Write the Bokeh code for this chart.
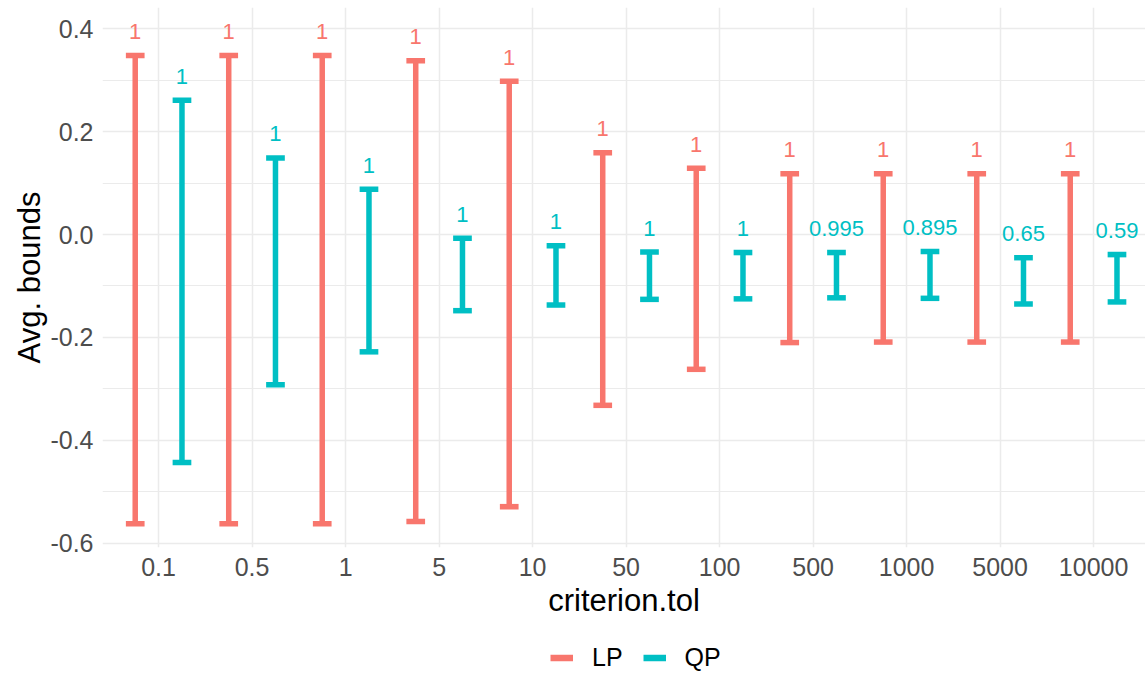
from bokeh.plotting import figure
from bokeh.layouts import column
from bokeh.models import (ColumnDataSource, FixedTicker, Legend, LegendItem,
                          PrintfTickFormatter, Range1d, LabelSet)
from bokeh.embed import file_html
from bokeh.resources import INLINE
from bokeh.core.properties import value

# ---- data ----
tol_labels = ["0.1", "0.5", "1", "5", "10", "50", "100", "500", "1000", "5000", "10000"]
methods = ["LP", "QP"]
lp_upper = [0.348, 0.348, 0.348, 0.338, 0.298, 0.159, 0.129, 0.118, 0.118, 0.118, 0.118]
lp_lower = [-0.562, -0.562, -0.562, -0.558, -0.529, -0.332, -0.262, -0.210, -0.209, -0.209, -0.209]
lp_label = ["1", "1", "1", "1", "1", "1", "1", "1", "1", "1", "1"]
qp_upper = [0.261, 0.149, 0.088, -0.007, -0.022, -0.034, -0.035, -0.035, -0.033, -0.045, -0.039]
qp_lower = [-0.443, -0.292, -0.228, -0.148, -0.137, -0.126, -0.125, -0.123, -0.124, -0.135, -0.131]
qp_label = ["1", "1", "1", "1", "1", "1", "1", "0.995", "0.895", "0.65", "0.59"]

colors = {"LP": "#F8766D", "QP": "#00BFC4"}
dodge = {"LP": -0.25, "QP": 0.25}
cap_half = 0.1
FONT = "Liberation Sans"

p = figure(width=1145, height=640, output_backend="svg", toolbar_location=None,
           x_range=Range1d(0.4, 11.555), y_range=Range1d(-0.6084, 0.4414),
           min_border_left=102, min_border_right=0, min_border_top=7,
           min_border_bottom=93)
p.outline_line_color = None
p.background_fill_color = "white"

sources = {}
for m, up, lo, lab in (("LP", lp_upper, lp_lower, lp_label), ("QP", qp_upper, qp_lower, qp_label)):
    xs = [i + 1 + dodge[m] for i in range(len(tol_labels))]
    src = ColumnDataSource(dict(x=xs, upper=up, lower=lo, label=lab,
                                xl=[x - cap_half for x in xs], xr=[x + cap_half for x in xs]))
    sources[m] = src
    p.segment(x0="x", y0="lower", x1="x", y1="upper", source=src,
              line_color=colors[m], line_width=5.5, line_cap="butt")
    p.segment(x0="xl", y0="upper", x1="xr", y1="upper", source=src,
              line_color=colors[m], line_width=5.5, line_cap="butt")
    p.segment(x0="xl", y0="lower", x1="xr", y1="lower", source=src,
              line_color=colors[m], line_width=5.5, line_cap="butt")
    labels = LabelSet(x="x", y="upper", text="label", source=src,
                      text_color=colors[m], text_font=value(FONT),
                      text_font_size=value("22px"), text_align="center",
                      text_baseline="alphabetic", y_offset=16.5)
    p.add_layout(labels)

# axes
xt = FixedTicker(ticks=list(range(1, len(tol_labels) + 1)))
p.xaxis.ticker = xt
p.xaxis.major_label_overrides = {i + 1: t for i, t in enumerate(tol_labels)}
p.yaxis.ticker = FixedTicker(ticks=[-0.6, -0.4, -0.2, 0.0, 0.2, 0.4],
                             minor_ticks=[-0.5, -0.3, -0.1, 0.1, 0.3])
p.yaxis.formatter = PrintfTickFormatter(format="%.1f")

for ax in (p.xaxis[0], p.yaxis[0]):
    ax.axis_line_color = None
    ax.major_tick_line_color = None
    ax.minor_tick_line_color = None
    ax.major_tick_out = 0
    ax.major_tick_in = 0
    ax.minor_tick_out = 0
    ax.minor_tick_in = 0
    ax.major_label_text_font = FONT
    ax.major_label_text_font_size = "25px"
    ax.major_label_text_color = "#4D4D4D"
    ax.axis_label_text_font = FONT
    ax.axis_label_text_font_size = "31px"
    ax.axis_label_text_font_style = "normal"
    ax.axis_label_text_color = "black"

p.xaxis.axis_label = "criterion.tol"
p.yaxis.axis_label = "Avg. bounds"
p.xaxis.major_label_standoff = 10
p.xaxis.axis_label_standoff = 4
p.yaxis.major_label_standoff = 9
p.yaxis.axis_label_standoff = 0

# grid
p.xgrid.ticker = xt
p.xgrid.grid_line_color = "#EBEBEB"
p.xgrid.grid_line_width = 1.5
p.ygrid.grid_line_color = "#EBEBEB"
p.ygrid.grid_line_width = 1.5
p.ygrid.minor_grid_line_color = "#EBEBEB"
p.ygrid.minor_grid_line_width = 1.0

# ---- legend strip (below the plot); its view is empty, only the legend shows ----
lg = figure(width=1145, height=33, output_backend="svg", toolbar_location=None,
            x_range=Range1d(100, 101), y_range=Range1d(100, 101),
            x_axis_location=None, y_axis_location=None,
            min_border_left=0, min_border_right=0, min_border_top=0,
            min_border_bottom=0)
lg.outline_line_color = None
lg.xgrid.visible = False
lg.ygrid.visible = False
items = []
for m in methods:
    r = lg.segment(x0="x", y0="lower", x1="x", y1="upper", source=sources[m],
                   line_color=colors[m], line_width=6.5, line_cap="butt")
    items.append(LegendItem(label=m, renderers=[r]))
legend = Legend(items=items, orientation="horizontal", location=(448, 1),
                label_text_font=FONT, label_text_font_size="25px",
                label_text_color="black", glyph_width=23, glyph_height=29,
                label_standoff=19, spacing=20, padding=0, margin=0,
                border_line_color=None, background_fill_alpha=0)
lg.add_layout(legend)

open("out.html", "w").write(file_html(column(p, lg), INLINE))
